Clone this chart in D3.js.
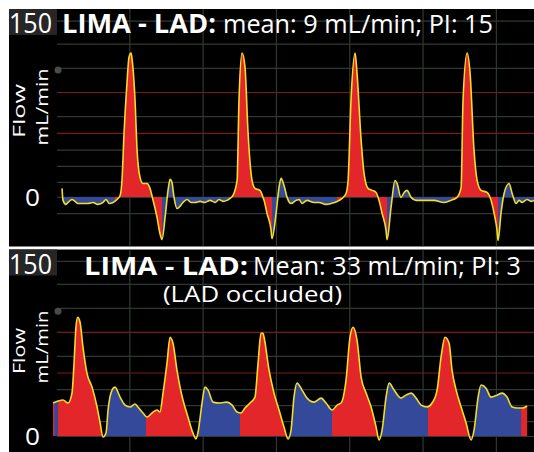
<!DOCTYPE html>
<html>
<head>
<meta charset="utf-8">
<script src="https://cdn.jsdelivr.net/npm/d3@7"></script>
<style>
  body { margin: 0; background: #fff; }
  svg { display: block; }
  text { font-family: "Open Sans", "Noto Sans", sans-serif; fill: #fff; }
</style>
</head>
<body>
<div id="chart"></div>
<script>
// flow samples: [time (s), flow (mL/min)]
const topFlow = [
  [0.041, 7.4], [0.048, -3.0], [0.068, -6.5], [0.082, -4.8], [0.109, -2.2], [0.130, -3.9],
  [0.150, -5.7], [0.184, -5.7], [0.218, -5.7], [0.252, -4.8], [0.286, -6.5], [0.321, -4.8],
  [0.341, -2.2], [0.362, -5.7], [0.389, -4.8], [0.416, -2.2], [0.437, 1.3], [0.450, 14.3],
  [0.464, 55.2], [0.484, 98.7], [0.498, 121.3], [0.512, 124.8], [0.518, 120.4], [0.539, 83.9],
  [0.553, 40.4], [0.573, 17.0], [0.593, 11.7], [0.621, 11.7], [0.641, 7.4], [0.662, -3.0],
  [0.689, -17.8], [0.709, -31.7], [0.723, -37.0], [0.744, -17.8], [0.764, 5.7], [0.778, 15.2],
  [0.791, 12.6], [0.805, -0.4], [0.825, -10.0], [0.839, -9.1], [0.866, -4.8], [0.894, -2.2],
  [0.921, -4.8], [0.948, -4.8], [0.982, -3.9], [1.016, -4.8], [1.050, -3.0], [1.085, -4.8],
  [1.112, -2.2], [1.139, -3.9], [1.166, -3.0], [1.187, -1.3], [1.207, 1.3],
  [1.235, 14.3], [1.248, 83.9], [1.269, 124.8], [1.289, 112.6], [1.310, 55.2], [1.337, 14.3],
  [1.357, 7.4], [1.391, 5.7], [1.412, -0.4], [1.419, -3.0], [1.439, -14.3], [1.467, -29.1],
  [1.473, -36.1], [1.501, -14.3], [1.521, 8.3], [1.535, 16.1], [1.555, 10.0], [1.576, -0.4],
  [1.603, -5.7], [1.637, -3.0], [1.658, -2.2], [1.678, -5.7], [1.712, -3.0], [1.760, -4.8],
  [1.794, -4.8], [1.842, -6.5], [1.876, -5.7], [1.917, -3.9], [1.951, -1.3], [1.978, 3.0],
  [1.992, 14.3], [2.012, 83.9], [2.040, 124.8], [2.053, 107.4], [2.081, 49.1], [2.101, 20.4],
  [2.128, 7.4], [2.156, 5.7], [2.183, 3.9], [2.203, -3.0], [2.224, -14.3], [2.251, -29.1],
  [2.258, -37.0], [2.285, -9.1], [2.312, 14.3], [2.326, 11.7], [2.353, -0.4], [2.374, 3.9],
  [2.394, 5.7], [2.422, -0.4], [2.456, -3.0], [2.510, -3.0], [2.578, -3.0], [2.647, -4.8],
  [2.694, -3.0], [2.735, -0.4],
  [2.763, 8.3], [2.776, 83.9], [2.804, 124.8], [2.824, 107.4], [2.851, 40.4], [2.872, 14.3],
  [2.899, 5.7], [2.940, 3.9], [2.967, -3.0], [2.988, -14.3], [3.008, -29.1], [3.015, -37.8],
  [3.035, -14.3], [3.056, 3.0], [3.090, 11.7], [3.111, 3.0], [3.138, -5.7], [3.158, -3.0],
  [3.179, -4.8], [3.213, -2.2], [3.240, -3.9], [3.261, -3.0]
];
// systole phases (red), the rest is blue
const topRed = [[0.402, 0.723], [1.180, 1.473], [1.917, 2.258], [2.701, 3.015]];

const bottomFlow = [
  [-0.020, 28.8], [0.014, 30.5], [0.048, 31.4], [0.082, 28.8], [0.109, 37.5], [0.123, 63.6],
  [0.136, 95.0], [0.148, 103.7], [0.164, 99.4], [0.184, 77.6], [0.211, 54.9], [0.246, 42.7],
  [0.280, 25.3], [0.300, 12.2], [0.321, -0.9], [0.341, 2.6], [0.355, 22.7], [0.382, 40.1],
  [0.402, 42.7], [0.437, 34.0], [0.471, 27.0], [0.505, 25.3], [0.539, 27.9], [0.559, 25.3],
  [0.593, 20.1], [0.621, 16.6], [0.655, 20.1], [0.689, 22.7], [0.709, 20.9], [0.730, 37.5],
  [0.757, 63.6], [0.778, 86.3], [0.798, 81.1], [0.825, 57.5], [0.846, 42.7], [0.866, 31.4],
  [0.900, 16.6], [0.934, 2.6], [0.955, -2.6], [0.969, 3.5], [0.996, 28.8], [1.016, 42.7],
  [1.037, 40.1], [1.071, 29.6], [1.119, 28.8], [1.166, 29.6], [1.201, 27.0], [1.235, 20.9],
  [1.262, 20.1], [1.289, 24.4], [1.323, 28.8], [1.357, 34.0], [1.378, 63.6], [1.398, 89.8],
  [1.412, 89.8], [1.419, 86.3], [1.453, 57.5], [1.487, 37.5], [1.521, 22.7], [1.555, 7.8],
  [1.583, -2.6], [1.603, 5.2], [1.623, 34.0], [1.644, 46.2], [1.678, 40.1], [1.712, 33.1],
  [1.760, 29.6], [1.808, 33.1], [1.842, 28.8], [1.883, 22.7], [1.917, 27.0], [1.944, 28.8],
  [1.978, 48.8], [2.005, 86.3], [2.026, 95.0], [2.053, 83.7], [2.081, 51.4], [2.115, 37.5],
  [2.149, 25.3], [2.183, 7.8], [2.203, -3.5], [2.224, 5.2], [2.251, 34.0], [2.272, 46.2],
  [2.306, 40.1], [2.353, 33.1], [2.387, 35.7], [2.422, 37.5], [2.456, 33.1], [2.490, 27.0],
  [2.531, 25.3], [2.565, 28.8], [2.599, 40.1], [2.626, 68.9], [2.653, 86.3], [2.681, 81.1],
  [2.701, 57.5], [2.729, 40.1], [2.763, 25.3], [2.797, 11.3], [2.831, -3.5], [2.851, 5.2],
  [2.879, 34.0], [2.899, 44.5], [2.933, 41.8], [2.967, 34.0], [3.008, 35.7], [3.042, 37.5],
  [3.076, 34.0], [3.111, 25.3], [3.145, 24.4], [3.179, 24.4], [3.213, 26.2]
];
const bottomRed = [[-0.020, -0.010], [0.014, 0.327], [0.614, 0.955], [1.255, 1.583],
  [1.883, 2.203], [2.537, 2.831], [3.172, 3.220]];

// grid
const gridTicks = [153, 133, 112, 70, 41, 27, 13, 0, -14];
const redTicks = [91, 55.5];
const timeTicks = [0.5, 1, 1.5, 2, 2.5, 3];
const yTickLabels = ["150", "0"];

const width = 534, height = 452;
const svg = d3.select("#chart").append("svg")
  .attr("width", width).attr("height", height);

svg.append("rect").attr("width", width).attr("height", height).attr("fill", "#fff");

const x = d3.scaleLinear().domain([0, 3.26]).range([56, 534]);

function fitText(g, opts) {
  const t = g.append("text")
    .attr("x", opts.x).attr("y", opts.y)
    .attr("font-size", opts.size)
    .attr("font-weight", opts.weight || 400)
    .attr("textLength", opts.w)
    .attr("lengthAdjust", "spacingAndGlyphs")
    .text(opts.text);
  if (opts.rotate) {
    t.attr("x", 0).attr("y", 0)
      .attr("text-anchor", "middle")
      .attr("transform", `translate(${opts.x},${opts.y}) rotate(-90)`);
  }
  return t;
}

function drawPanel(p) {
  const g = svg.append("g");
  const y = d3.scaleLinear().domain(p.domain).range([p.bottom, p.top]);
  const clipId = "clip-" + p.id;

  g.append("clipPath").attr("id", clipId)
    .append("rect").attr("x", 9).attr("y", p.top)
    .attr("width", width - 9).attr("height", p.bottom - p.top);

  g.append("rect")
    .attr("x", 9).attr("y", p.top)
    .attr("width", width - 9).attr("height", p.bottom - p.top)
    .attr("fill", "#000");

  const plot = g.append("g").attr("clip-path", `url(#${clipId})`);

  // horizontal grid
  plot.append("g")
    .attr("transform", `translate(57,0)`)
    .call(d3.axisLeft(y).tickValues(gridTicks).tickSize(-(width - 57)).tickFormat(""))
    .call(a => a.select(".domain").remove())
    .call(a => a.selectAll("line").attr("stroke", "#2e3a30").attr("stroke-width", 1.2));

  plot.append("g")
    .attr("transform", `translate(57,0)`)
    .call(d3.axisLeft(y).tickValues(redTicks).tickSize(-(width - 57)).tickFormat(""))
    .call(a => a.select(".domain").remove())
    .call(a => a.selectAll("line").attr("stroke", "#7c1a16").attr("stroke-width", 1.2));

  // vertical grid
  plot.append("g")
    .attr("transform", `translate(0,${p.bottom})`)
    .call(d3.axisBottom(x).tickValues(timeTicks).tickSize(-(p.bottom - p.top)).tickFormat(""))
    .call(a => a.select(".domain").remove())
    .call(a => a.selectAll("line").attr("stroke", "#2e3a30").attr("stroke-width", 1.2));

  const area = d3.area()
    .x(d => x(d[0]))
    .y0(y(0))
    .y1(d => y(d[1]))
    .curve(d3.curveMonotoneX);

  const line = d3.line()
    .x(d => x(d[0]))
    .y(d => y(d[1]))
    .curve(d3.curveMonotoneX);

  plot.append("path").datum(p.data)
    .attr("d", area).attr("fill", "#34499a");

  const redClip = "red-" + p.id;
  g.append("clipPath").attr("id", redClip)
    .selectAll("rect").data(p.red).join("rect")
    .attr("x", d => x(d[0])).attr("width", d => x(d[1]) - x(d[0]))
    .attr("y", p.top).attr("height", p.bottom - p.top);

  plot.append("g").attr("clip-path", `url(#${redClip})`)
    .append("path").datum(p.data)
    .attr("d", area).attr("fill", "#e3262a");

  plot.append("path").datum(p.data)
    .attr("d", line)
    .attr("fill", "none")
    .attr("stroke", "#f2de22")
    .attr("stroke-width", 1.6)
    .attr("stroke-linejoin", "round");

  // y label box and marker
  g.append("rect")
    .attr("x", 9).attr("y", p.top).attr("width", 48).attr("height", 26)
    .attr("fill", "#262626");
  g.append("circle")
    .attr("cx", 58).attr("cy", y(p.dotAt)).attr("r", 3.5)
    .attr("fill", "#4a4a4a");

  fitText(g, { text: yTickLabels[0], x: 9, y: p.top + 24, size: 27, w: 43 });
  fitText(g, { text: yTickLabels[1], x: 25, y: y(0) + 9.5, size: 24, w: 15 });
  fitText(g, { text: "Flow", x: 25, y: p.flowY + 4, size: 17, w: p.flowW, rotate: true });
  fitText(g, { text: "mL/min", x: 48, y: p.flowY, size: 17, w: p.unitW, rotate: true });

  p.titles.forEach(t => fitText(g, t));
}

drawPanel({
  id: "top", data: topFlow, red: topRed,
  top: 9, bottom: 246.5, domain: [-43, 163],
  dotAt: 110, flowY: 107, flowW: 54, unitW: 77,
  titles: [
    { text: "LIMA - LAD:", x: 62, y: 33, size: 26, weight: 700, w: 154 },
    { text: "mean: 9 mL/min; PI: 15", x: 223, y: 33, size: 26, w: 270 }
  ]
});

drawPanel({
  id: "bottom", data: bottomFlow, red: bottomRed,
  top: 249.5, bottom: 452, domain: [-14, 163],
  dotAt: 109, flowY: 347, flowW: 46, unitW: 73,
  titles: [
    { text: "LIMA - LAD:", x: 84, y: 275, size: 25, weight: 700, w: 164 },
    { text: "Mean: 33 mL/min; PI: 3", x: 253, y: 275, size: 25, w: 268 },
    { text: "(LAD occluded)", x: 163, y: 302, size: 22, w: 179 }
  ]
});
</script>
</body>
</html>
